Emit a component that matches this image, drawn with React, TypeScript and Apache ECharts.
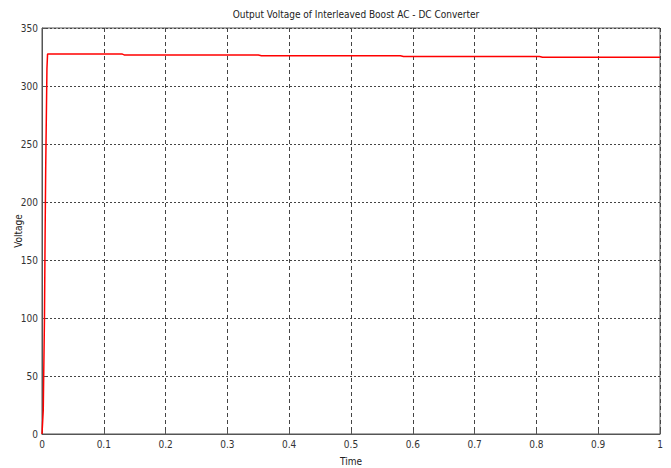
import React, { useEffect, useRef } from "react";
import * as echarts from "echarts";

const titleText = "Output Voltage of Interleaved Boost AC - DC Converter";
const xName = "Time";
const yName = "Voltage";

const timeValues = [0, 0.002, 0.004, 0.005, 0.006, 0.008, 0.009, 0.13, 0.133, 0.35, 0.355, 0.58, 0.585, 0.805, 0.81, 1];
const voltageValues = [0, 20, 100, 170, 230, 315, 327.5, 327.5, 326.8, 326.8, 326.1, 326.1, 325.4, 325.4, 324.7, 324.7];

const FONT = "'DejaVu Sans Condensed', 'Liberation Sans Narrow', 'Liberation Sans', Arial, sans-serif";

export default function App() {
  const ref = useRef<HTMLDivElement>(null);
  useEffect(() => {
    if (!ref.current) return;
    const chart = echarts.init(ref.current, null, { renderer: "svg" });
    const data = timeValues.map((t, i) => [t, voltageValues[i]]);
    chart.setOption({
      animation: false,
      backgroundColor: "#ffffff",
      title: {
        text: titleText,
        left: 351,
        textAlign: "center",
        top: 4,
        textStyle: { fontFamily: FONT, fontSize: 10, fontWeight: "normal", color: "#222" },
      },
      grid: {
        left: 42,
        right: 11,
        top: 28,
        bottom: 34,
        containLabel: false,
        outerBoundsMode: "none",
        show: true,
        borderColor: "#555",
        borderWidth: 1,
        backgroundColor: "#fff",
      },
      xAxis: {
        type: "value",
        min: 0,
        max: 1,
        interval: 0.1,
        name: xName,
        nameLocation: "middle",
        nameGap: 22,
        nameMoveOverlap: false,
        nameTextStyle: { fontFamily: FONT, fontSize: 10, color: "#222" },
        axisLine: { lineStyle: { color: "#555" } },
        axisTick: { inside: true, length: 4, lineStyle: { color: "#555" } },
        axisLabel: {
          fontFamily: FONT,
          fontSize: 10,
          color: "#333",
          margin: 5,
          formatter: (v: number) => String(Math.round(v * 10) / 10),
        },
        splitLine: { show: true, lineStyle: { color: "#444", type: [4, 3], width: 1 } },
      },
      yAxis: {
        type: "value",
        min: 0,
        max: 350,
        interval: 50,
        name: yName,
        nameLocation: "middle",
        nameGap: 19,
        nameMoveOverlap: false,
        nameTextStyle: { fontFamily: FONT, fontSize: 10, color: "#222" },
        axisLine: { show: true, lineStyle: { color: "#555" } },
        axisTick: { show: true, inside: true, length: 4, lineStyle: { color: "#555" } },
        axisLabel: { fontFamily: FONT, fontSize: 10, color: "#333", margin: 4 },
        splitLine: { show: true, lineStyle: { color: "#444", type: [2, 2], width: 1 } },
      },
      series: [
        {
          type: "line",
          data,
          showSymbol: false,
          symbol: "none",
          lineStyle: { color: "#ff0000", width: 1.5 },
          itemStyle: { color: "#ff0000" },
        },
      ],
    });
    return () => chart.dispose();
  }, []);
  return <div ref={ref} style={{ width: 671, height: 468, position: "absolute", left: 0, top: 0 }} />;
}
